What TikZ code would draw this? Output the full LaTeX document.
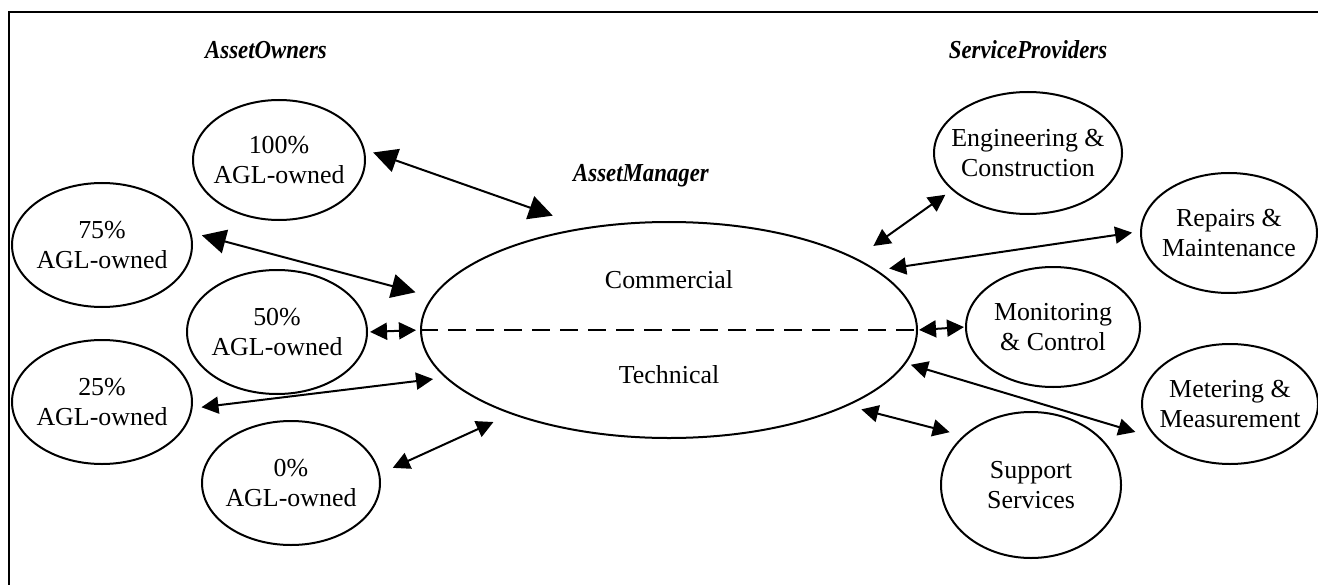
\documentclass[tikz,border=0pt]{standalone}
\usepackage{fontspec}
\usepackage{graphicx}
\setmainfont{Liberation Serif}
\usetikzlibrary{shapes.geometric,arrows.meta}
\newcommand{\hdrtext}[1]{\scalebox{0.88}[1]{\fontsize{26}{30}\selectfont\bfseries\itshape #1}}
\begin{document}
\begin{tikzpicture}[x=1bp,y=-1bp,
  oval/.style={draw, line width=2bp, ellipse, inner sep=0pt},
  lbl/.style={font=\fontsize{26}{31}\selectfont, align=center, inner sep=0pt},
  hdr/.style={inner sep=0pt},
  conn/.style={line width=2bp, {Triangle[length=17bp,width=17bp]}-{Triangle[length=17bp,width=17bp]}},
  bigconn/.style={line width=2bp, {Triangle[length=24bp,width=24bp]}-{Triangle[length=24bp,width=24bp]}}]
\useasboundingbox (0,0) rectangle (1318,585);
\draw[line width=2bp] (9,585) -- (9,12) -- (1318,12);

\node[hdr] (hAO) at (266,50) {\hdrtext{AssetOwners}};
\node[hdr] (hSP) at (1028,50) {\hdrtext{ServiceProviders}};
\node[hdr] (hAM) at (641,176) {\hdrtext{AssetManager}};

\node[oval, minimum width=172bp, minimum height=120bp] (n100) at (279,160) {};
\node[lbl] (t100) at (n100) {100\%\\AGL-owned};
\node[oval, minimum width=180bp, minimum height=124bp] (n75) at (102,245) {};
\node[lbl] (t75) at (n75) {75\%\\AGL-owned};
\node[oval, minimum width=180bp, minimum height=124bp] (n50) at (277,332) {};
\node[lbl] (t50) at (n50) {50\%\\AGL-owned};
\node[oval, minimum width=180bp, minimum height=124bp] (n25) at (102,402) {};
\node[lbl] (t25) at (n25) {25\%\\AGL-owned};
\node[oval, minimum width=178bp, minimum height=124bp] (n0) at (291,483) {};
\node[lbl] (t0) at (n0) {0\%\\AGL-owned};

\node[oval, minimum width=496bp, minimum height=216bp] (C) at (669,330) {};
\node[lbl] (tCo) at (669,280) {Commercial};
\node[lbl] (tTe) at (669,375) {Technical};
\draw[line width=2bp, dash pattern=on 18bp off 10bp] (C.west) -- (C.east);

\node[oval, minimum width=188bp, minimum height=122bp] (nEC) at (1028,153) {};
\node[lbl] (tEC) at (nEC) {Engineering \&\\Construction};
\node[oval, minimum width=176bp, minimum height=120bp] (nRM) at (1229,233) {};
\node[lbl] (tRM) at (nRM) {Repairs \&\\Maintenance};
\node[oval, minimum width=174bp, minimum height=120bp] (nMC) at (1053,327) {};
\node[lbl] (tMC) at (nMC) {Monitoring\\\& Control};
\node[oval, minimum width=176bp, minimum height=120bp] (nMM) at (1230,404) {};
\node[lbl] (tMM) at (nMM) {Metering \&\\Measurement};
\node[oval, minimum width=180bp, minimum height=146bp] (nSS) at (1031,485) {};
\node[lbl] (tSS) at (nSS) {Support\\Services};

\draw[bigconn, shorten <=9bp, shorten >=35bp] (n100.7.5) -- (C.129.7);
\draw[bigconn, shorten <=11bp, shorten >=17bp] (n75.8) -- (C.172.5);
\draw[conn, shorten <=2bp, shorten >=4bp] (n50.0) -- (C.180);
\draw[conn, shorten <=9bp, shorten >=12bp] (n25.-4) -- (C.192.7);
\draw[conn, shorten <=14bp, shorten >=19bp] (n0.6) -- (C.208.7);
\draw[conn, shorten <=21bp, shorten >=8bp] (C.21.2) -- (nEC.206.7);
\draw[conn, shorten <=12bp, shorten >=8bp] (C.16.7) -- (nRM.179.3);
\draw[conn, shorten <=1bp, shorten >=1bp] (C.0) -- (nMC.180);
\draw[conn, shorten <=5bp, shorten >=22bp] (C.-8) -- (nMM.205);
\draw[conn, shorten <=14bp, shorten >=14bp] (C.-23.7) -- (nSS.144.2);
\end{tikzpicture}
\end{document}
